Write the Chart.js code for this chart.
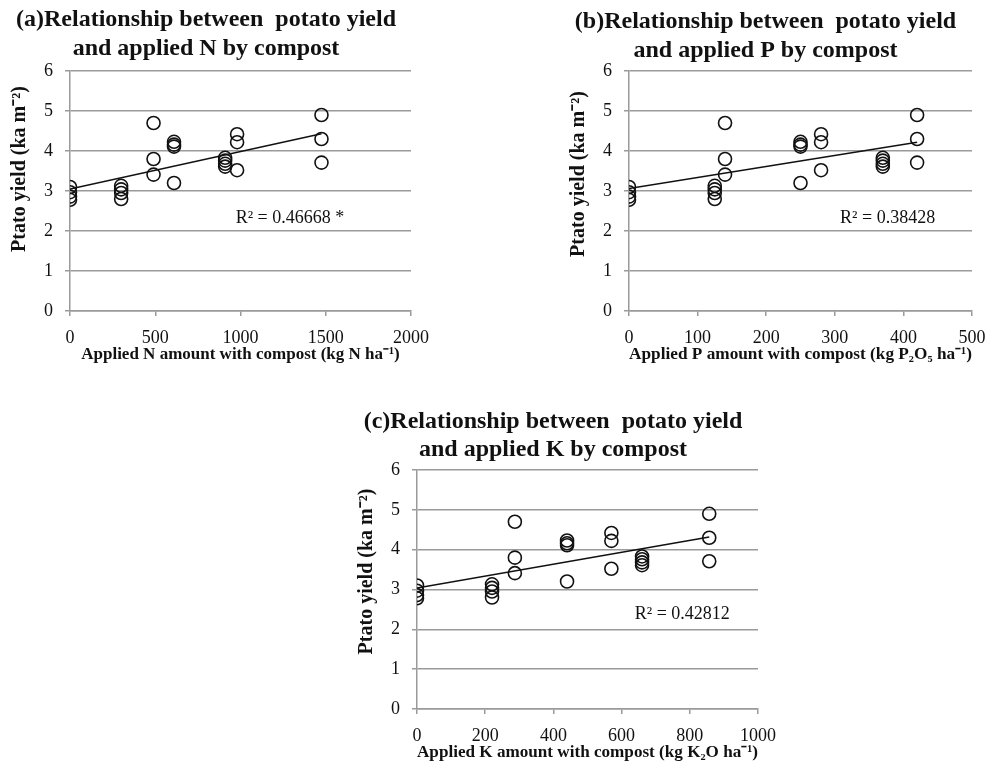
<!DOCTYPE html>
<html>
<head>
<meta charset="utf-8">
<script src="https://cdn.jsdelivr.net/npm/chart.js@4.4.0/dist/chart.umd.min.js"></script>
<style>
  html, body { margin: 0; padding: 0; background: #fff; overflow: hidden; }
  body { width: 999px; height: 776px; position: relative; }
  canvas { position: absolute; }
  #chartN { left: 0px; top: 0px; }
  #chartP { left: 559px; top: 0px; }
  #chartK { left: 347px; top: 400px; }
</style>
</head>
<body>
<canvas id="chartN" width="440" height="366"></canvas>
<canvas id="chartP" width="441" height="366"></canvas>
<canvas id="chartK" width="440" height="364"></canvas>
<script>
// applied amounts per treatment (same order as yieldGroups)
const nApplied = [0, 300, 490, 610, 910, 980, 1475];
const pApplied = [0, 125, 140, 250, 370, 280, 420];
const kApplied = [0, 220, 287, 440, 660, 570, 857];

// potato yield replicates per treatment
const yieldGroups = [
  [3.1, 2.97, 2.86, 2.78],
  [3.13, 3.04, 2.95, 2.8],
  [4.7, 3.8, 3.41],
  [4.23, 4.16, 4.11, 3.2],
  [3.83, 3.76, 3.68, 3.61],
  [4.42, 4.22, 3.52],
  [4.9, 4.3, 3.71],
];

// trend line end points
const trendN = [[0, 3.05], [1475, 4.43]];
const trendP = [[0, 3.06], [420, 4.22]];
const trendK = [[0, 3.04], [857, 4.32]];

const yTicks = [0, 1, 2, 3, 4, 5, 6];
const r2Labels = ["R² = 0.46668 *", "R² = 0.38428", "R² = 0.42812"];
const r2At = [[1290, 2.31], [377, 2.31], [778, 2.38]];

const SERIF = '"Liberation Serif", "Times New Roman", serif';
const GRID = "#9a9a9a";

const sideTexts = {
  id: "sideTexts",
  afterDraw(chart, args, opts) {
    const { ctx, chartArea, scales } = chart;
    ctx.save();
    ctx.fillStyle = "#111";
    ctx.textAlign = "center";
    ctx.textBaseline = "middle";
    ctx.font = "bold 20px " + SERIF;
    ctx.translate(opts.titleX, (chartArea.top + chartArea.bottom) / 2 + opts.titleShift);
    ctx.rotate(-Math.PI / 2);
    ctx.fillText(opts.title, 0, 0);
    ctx.restore();

    ctx.save();
    ctx.fillStyle = "#111";
    ctx.textAlign = "center";
    ctx.textBaseline = "middle";
    ctx.font = "18px " + SERIF;
    ctx.fillText(
      opts.label,
      scales.x.getPixelForValue(opts.labelAt[0]),
      scales.y.getPixelForValue(opts.labelAt[1])
    );
    ctx.restore();
  },
};

function buildPoints(amounts) {
  const pts = [];
  amounts.forEach((x, i) => {
    yieldGroups[i].forEach((y) => pts.push({ x: x, y: y }));
  });
  return pts;
}

function makeChart(id, cfg) {
  const ctx = document.getElementById(id).getContext("2d");
  return new Chart(ctx, {
    type: "scatter",
    data: {
      datasets: [
        {
          data: buildPoints(cfg.amounts),
          pointStyle: "circle",
          pointRadius: 6.5,
          pointHoverRadius: 6.5,
          backgroundColor: "rgba(0,0,0,0)",
          borderColor: "#111",
          borderWidth: 1.6,
        },
        {
          data: cfg.trend.map((p) => ({ x: p[0], y: p[1] })),
          showLine: true,
          pointRadius: 0,
          borderColor: "#111",
          borderWidth: 1.5,
          fill: false,
        },
      ],
    },
    options: {
      responsive: false,
      animation: false,
      layout: { padding: { left: 0, right: 28, top: 0, bottom: 0 } },
      plugins: {
        legend: { display: false },
        tooltip: { enabled: false },
        title: {
          display: true,
          text: cfg.title,
          color: "#111",
          font: { family: SERIF, size: 24, weight: "bold", lineHeight: cfg.titleLine + "px" },
          padding: { top: cfg.titleTop, bottom: cfg.titleBottom },
        },
        sideTexts: {
          title: "Ptato yield (ka m⁻²)",
          titleX: 20,
          titleShift: cfg.titleShift,
          label: cfg.label,
          labelAt: cfg.labelAt,
        },
      },
      scales: {
        x: {
          type: "linear",
          min: 0,
          max: cfg.xMax,
          afterFit: (scale) => { scale.height = 55; },
          ticks: {
            stepSize: cfg.xStep,
            color: "#111",
            padding: 11,
            maxRotation: 0,
            font: { family: SERIF, size: 18 },
            callback: (value) => String(value),
          },
          grid: { drawOnChartArea: false, color: GRID, lineWidth: 1.5, tickLength: 5 },
          border: { color: GRID, width: 1.5 },
          title: {
            display: true,
            text: cfg.xTitle,
            color: "#111",
            padding: { top: 0, bottom: 1 },
            font: { family: SERIF, size: cfg.xTitleSize, weight: "bold" },
          },
        },
        y: {
          min: 0,
          max: 6,
          afterFit: (scale) => { scale.width = 70; },
          afterBuildTicks: (scale) => { scale.ticks = yTicks.map((v) => ({ value: v })); },
          ticks: {
            color: "#111",
            padding: 12,
            font: { family: SERIF, size: 18 },
          },
          grid: { color: GRID, lineWidth: 1.5, tickLength: 5 },
          border: { color: GRID, width: 1.5 },
        },
      },
    },
    plugins: [sideTexts],
  });
}

makeChart("chartN", {
  amounts: nApplied,
  trend: trendN,
  xMax: 2000,
  xStep: 500,
  title: ["(a)Relationship between  potato yield", "and applied N by compost"],
  titleLine: 29,
  titleTop: 5.5,
  titleBottom: 7.5,
  titleShift: -22,
  xTitle: "Applied N amount with compost (kg N ha⁻¹)",
  xTitleSize: 17,
  label: r2Labels[0],
  labelAt: r2At[0],
});

makeChart("chartP", {
  amounts: pApplied,
  trend: trendP,
  xMax: 500,
  xStep: 100,
  title: ["(b)Relationship between  potato yield", "and applied P by compost"],
  titleLine: 29,
  titleTop: 7,
  titleBottom: 6,
  titleShift: -17,
  xTitle: "Applied P amount with compost (kg P₂O₅ ha⁻¹)",
  xTitleSize: 17.5,
  label: r2Labels[1],
  labelAt: r2At[1],
});

makeChart("chartK", {
  amounts: kApplied,
  trend: trendK,
  xMax: 1000,
  xStep: 200,
  title: ["(c)Relationship between  potato yield", "and applied K by compost"],
  titleLine: 28,
  titleTop: 8,
  titleBottom: 6,
  titleShift: -18,
  xTitle: "Applied K amount with compost (kg K₂O ha⁻¹)",
  xTitleSize: 17.5,
  label: r2Labels[2],
  labelAt: r2At[2],
});
</script>
</body>
</html>
